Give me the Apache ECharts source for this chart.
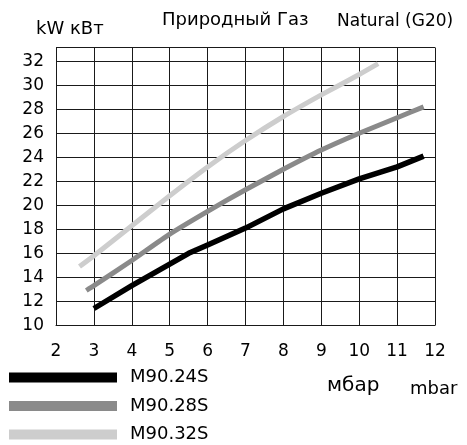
<!DOCTYPE html>
<html>
<head>
<meta charset="utf-8">
<script src="https://cdn.jsdelivr.net/npm/echarts@6/dist/echarts.min.js"></script>
<style>
html,body{margin:0;padding:0;background:#fff;}
#chart{width:467px;height:445px;}
</style>
</head>
<body>
<div id="chart"></div>
<script>
// ---- data ----
const seriesNames = ['M90.24S', 'M90.28S', 'M90.32S'];
const pressure24 = [3, 4, 5, 5.5, 6, 7, 8, 9, 10, 11, 11.7];
const power24 = [11.4, 13.3, 15.1, 16.0, 16.7, 18.1, 19.7, 21.0, 22.2, 23.2, 24.1];
const pressure28 = [2.8, 3, 4, 5, 6, 7, 8, 9, 10, 11, 11.7];
const power28 = [12.9, 13.3, 15.4, 17.6, 19.5, 21.3, 23.0, 24.6, 26.0, 27.3, 28.2];
const pressure32 = [2.62, 3, 4, 5, 6, 7, 8, 9, 10, 10.5];
const power32 = [14.9, 15.8, 18.3, 20.8, 23.2, 25.4, 27.4, 29.2, 30.9, 31.8];
const xTicks = [2, 3, 4, 5, 6, 7, 8, 9, 10, 11, 12];
const yTicks = [10, 12, 14, 16, 18, 20, 22, 24, 26, 28, 30, 32];
const yTop = 33.15;
const titleRu = 'Природный Газ';
const titleEn = 'Natural (G20)';
const yUnit = 'kW кВт';
const xUnitRu = 'мбар';
const xUnitEn = 'mbar';

const FONT = 'DejaVu Sans';
const pairs = (xs, ys) => xs.map((x, i) => [x, ys[i]]);

const chart = echarts.init(document.getElementById('chart'), null, {renderer: 'canvas'});
const gridColor = '#1a1a1a';

chart.setOption({
  animation: false,
  backgroundColor: '#fff',
  grid: {left: 56, right: 32, top: 47.5, bottom: 119.7, containLabel: false},
  xAxis: {
    type: 'value', min: xTicks[0], max: xTicks[xTicks.length - 1], interval: 1,
    axisLine: {show: true, lineStyle: {color: gridColor, width: 1}},
    axisTick: {show: false},
    splitLine: {show: true, lineStyle: {color: gridColor, width: 1}},
    axisLabel: {
      margin: 18, color: '#000', fontFamily: FONT, fontSize: 17,
      formatter: v => (xTicks.includes(v) ? String(v) : '')
    }
  },
  yAxis: {
    type: 'value', min: yTicks[0], max: yTop, interval: 2,
    axisLine: {show: true, lineStyle: {color: gridColor, width: 1}},
    axisTick: {show: false},
    splitLine: {show: true, lineStyle: {color: gridColor, width: 1}},
    axisLabel: {
      margin: 12, color: '#000', fontFamily: FONT, fontSize: 17,
      showMaxLabel: true,
      formatter: v => (yTicks.includes(v) ? String(v) : '')
    }
  },
  legend: {
    orient: 'vertical', left: 9, bottom: 1.5, padding: 0,
    icon: 'rect', itemWidth: 108, itemHeight: 10, itemGap: 10.5,
    data: seriesNames,
    textStyle: {fontFamily: FONT, fontSize: 18, lineHeight: 18, color: '#000', padding: [0, 0, 0, 8]}
  },
  graphic: [
    {type: 'text', x: 36, y: 29, style: {text: yUnit, fontFamily: FONT, fontSize: 18, fill: '#000', verticalAlign: 'middle'}},
    {type: 'text', x: 162, y: 20, style: {text: titleRu, fontFamily: FONT, fontSize: 18, fill: '#000', verticalAlign: 'middle'}},
    {type: 'text', x: 337, y: 22, style: {text: titleEn, fontFamily: FONT, fontSize: 17, fill: '#000', verticalAlign: 'middle'}},
    {type: 'text', x: 327, y: 386, style: {text: xUnitRu, fontFamily: FONT, fontSize: 20, fill: '#000', verticalAlign: 'middle'}},
    {type: 'text', x: 410, y: 389, style: {text: xUnitEn, fontFamily: FONT, fontSize: 18, fill: '#000', verticalAlign: 'middle'}}
  ],
  series: [
    {name: seriesNames[0], type: 'line', data: pairs(pressure24, power24), symbol: 'none', smooth: false,
     color: '#000000', lineStyle: {color: '#000000', width: 5.5}, z: 4},
    {name: seriesNames[1], type: 'line', data: pairs(pressure28, power28), symbol: 'none', smooth: 0.2,
     color: '#8a8a8a', lineStyle: {color: '#8a8a8a', width: 5}, z: 3},
    {name: seriesNames[2], type: 'line', data: pairs(pressure32, power32), symbol: 'none', smooth: 0.2,
     color: '#cdcdcd', lineStyle: {color: '#cdcdcd', width: 5}, z: 2}
  ]
});
</script>
</body>
</html>
